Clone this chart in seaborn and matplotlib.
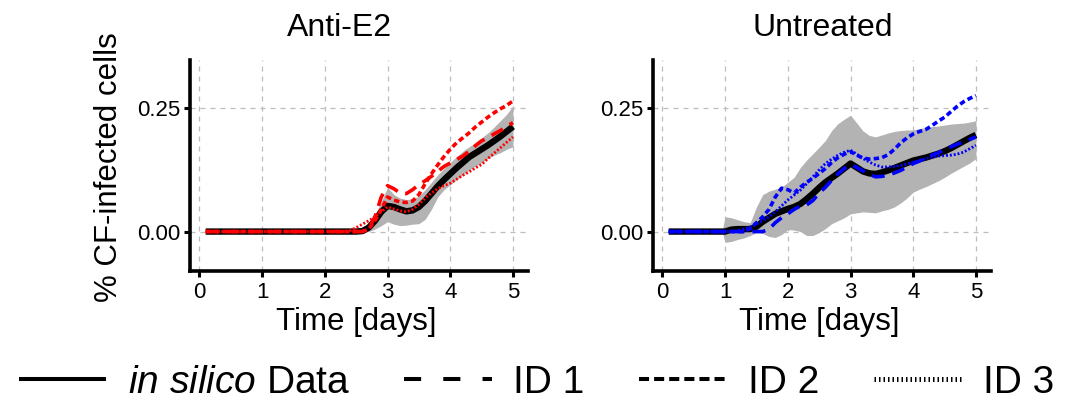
import matplotlib
matplotlib.use("Agg")
import matplotlib.pyplot as plt
from matplotlib.lines import Line2D
import pandas as pd
import seaborn as sns

# ---- data: fraction of CF-infected cells over time ----
days_e2 = [0.1, 2.3, 2.4, 2.5, 2.6, 2.7, 2.8, 2.9, 3.0, 3.1, 3.2, 3.3, 3.4, 3.5,
           3.6, 3.7, 3.8, 3.9, 4.0, 4.1, 4.2, 4.3, 4.4, 4.5, 4.6, 4.7, 4.8, 4.9, 5.0]
silico_e2 = [0, 0, 0, 0, 0.001, 0.008, 0.022, 0.04, 0.052, 0.05, 0.045, 0.041, 0.043, 0.05,
             0.062, 0.077, 0.092, 0.105, 0.117, 0.129, 0.14, 0.151, 0.159, 0.167, 0.175,
             0.184, 0.193, 0.203, 0.213]
upper_e2 = [0, 0, 0, 0, 0.005, 0.018, 0.035, 0.06, 0.09, 0.075, 0.068, 0.065, 0.066, 0.072,
            0.085, 0.1, 0.115, 0.128, 0.14, 0.152, 0.163, 0.172, 0.18, 0.19, 0.2, 0.212,
            0.225, 0.238, 0.255]
lower_e2 = [0, 0, 0, 0, -0.002, 0.0, 0.005, 0.012, 0.02, 0.015, 0.012, 0.013, 0.015, 0.016,
            0.025, 0.045, 0.07, 0.085, 0.095, 0.105, 0.115, 0.125, 0.133, 0.14, 0.148,
            0.155, 0.16, 0.167, 0.172]
id1_e2 = [0, 0, 0, 0, 0, 0.006, 0.03, 0.07, 0.093, 0.087, 0.078, 0.077, 0.085, 0.095,
          0.103, 0.112, 0.122, 0.132, 0.139, 0.146, 0.153, 0.163, 0.174, 0.184, 0.19,
          0.198, 0.205, 0.213, 0.221]
id2_e2 = [0, 0, 0, 0, 0, 0.005, 0.022, 0.045, 0.07, 0.064, 0.06, 0.059, 0.062, 0.075,
          0.097, 0.117, 0.135, 0.152, 0.167, 0.18, 0.19, 0.2, 0.212, 0.222, 0.232,
          0.241, 0.249, 0.256, 0.265]
id3_e2 = [0, 0, 0.002, 0.008, 0.015, 0.022, 0.03, 0.04, 0.05, 0.046, 0.042, 0.04, 0.045,
          0.055, 0.068, 0.078, 0.087, 0.093, 0.098, 0.106, 0.114, 0.121, 0.129, 0.136,
          0.148, 0.159, 0.17, 0.181, 0.192]

days_untr = [0.1, 0.95, 1.0, 1.1, 1.2, 1.3, 1.4, 1.5, 1.6, 1.7, 1.8, 1.9, 2.0, 2.1, 2.2,
             2.3, 2.4, 2.5, 2.6, 2.7, 2.8, 2.9, 3.0, 3.1, 3.2, 3.3, 3.4, 3.5, 3.6, 3.7,
             3.8, 3.9, 4.0, 4.1, 4.2, 4.3, 4.4, 4.5, 4.6, 4.7, 4.8, 4.9, 5.0]
silico_untr = [0, 0, 0.0, 0.004, 0.005, 0.005, 0.005, 0.01, 0.02, 0.028, 0.036, 0.041,
               0.046, 0.05, 0.056, 0.066, 0.077, 0.089, 0.1, 0.109, 0.118, 0.128, 0.138,
               0.13, 0.122, 0.118, 0.117, 0.12, 0.124, 0.129, 0.134, 0.139, 0.144, 0.147,
               0.15, 0.154, 0.158, 0.163, 0.169, 0.176, 0.183, 0.19, 0.196]
upper_untr = [0, 0, 0.03, 0.028, 0.024, 0.02, 0.018, 0.05, 0.075, 0.082, 0.086, 0.09,
              0.1, 0.11, 0.13, 0.145, 0.158, 0.171, 0.185, 0.205, 0.219, 0.228, 0.236,
              0.22, 0.204, 0.195, 0.192, 0.196, 0.2, 0.203, 0.205, 0.206, 0.206, 0.209,
              0.211, 0.213, 0.214, 0.216, 0.218, 0.219, 0.22, 0.222, 0.225]
lower_untr = [0, 0, -0.022, -0.02, -0.016, -0.013, -0.008, -0.002, -0.004, -0.01, -0.012,
              -0.006, 0.004, 0.003, 0.0, -0.008, -0.008, -0.002, 0.006, 0.016, 0.022,
              0.028, 0.036, 0.038, 0.04, 0.039, 0.038, 0.042, 0.045, 0.05, 0.058, 0.068,
              0.08, 0.086, 0.091, 0.097, 0.103, 0.11, 0.118, 0.125, 0.132, 0.139, 0.148]
id1_untr = [0, 0, 0, 0, 0, 0, 0, 0, 0.0, 0.005, 0.018, 0.028, 0.036, 0.045, 0.052, 0.054,
            0.063, 0.078, 0.09, 0.104, 0.117, 0.128, 0.136, 0.13, 0.123, 0.116, 0.111,
            0.112, 0.114, 0.119, 0.124, 0.131, 0.138, 0.143, 0.149, 0.155, 0.16, 0.166,
            0.172, 0.177, 0.182, 0.187, 0.192]
id2_untr = [0, 0, 0, 0, 0, 0, 0.006, 0.018, 0.03, 0.045, 0.07, 0.088, 0.085, 0.078, 0.09,
            0.1, 0.108, 0.118, 0.128, 0.14, 0.15, 0.157, 0.162, 0.155, 0.149, 0.147,
            0.148, 0.15, 0.156, 0.167, 0.18, 0.19, 0.198, 0.203, 0.207, 0.215, 0.224,
            0.232, 0.243, 0.254, 0.263, 0.27, 0.276]
id3_untr = [0, 0, 0, 0, 0.002, 0.005, 0.009, 0.015, 0.022, 0.03, 0.04, 0.052, 0.064,
            0.074, 0.084, 0.097, 0.111, 0.125, 0.138, 0.147, 0.155, 0.161, 0.165, 0.157,
            0.148, 0.141, 0.135, 0.131, 0.131, 0.132, 0.134, 0.137, 0.141, 0.144, 0.148,
            0.151, 0.153, 0.154, 0.155, 0.157, 0.161, 0.168, 0.175]

panel_titles = ["Anti-E2", "Untreated"]
x_ticks = [0, 1, 2, 3, 4, 5]
y_ticks = [0.0, 0.25]
y_tick_labels = ["0.00", "0.25"]
legend_labels = [r"$\mathit{in\ silico}$ Data", "ID 1", "ID 2", "ID 3"]

# ---- style ----
sns.set_style("white")
plt.rcParams["font.family"] = ["Liberation Sans", "DejaVu Sans"]
plt.rcParams["mathtext.fontset"] = "custom"
plt.rcParams["mathtext.it"] = "Liberation Sans:italic"
plt.rcParams["mathtext.rm"] = "Liberation Sans"
plt.rcParams["text.color"] = "black"
plt.rcParams["axes.labelcolor"] = "black"
plt.rcParams["xtick.color"] = "black"
plt.rcParams["ytick.color"] = "black"

W, H = 1066, 405
fig = plt.figure(figsize=(W / 100, H / 100), dpi=100)

panels = [
    dict(days=days_e2, silico=silico_e2, lo=lower_e2, hi=upper_e2,
         ids=[id1_e2, id2_e2, id3_e2], color="#FF0000", left=190, title_x=339.5),
    dict(days=days_untr, silico=silico_untr, lo=lower_untr, hi=upper_untr,
         ids=[id1_untr, id2_untr, id3_untr], color="#0000FF", left=653, title_x=822.5),
]

id_styles = [
    dict(lw=2.6, linestyle=(0, (3.6, 2.2))),   # ID 1: long dash
    dict(lw=2.6, linestyle=(0, (1.5, 0.9))),   # ID 2: short dash
    dict(lw=2.0, linestyle=(0, (0.7, 0.7))),   # ID 3: dotted
]

for p, title in zip(panels, panel_titles):
    ax = fig.add_axes([p["left"] / W, 1 - 271 / H, 338 / W, 211 / H])
    ax.fill_between(p["days"], p["lo"], p["hi"], color="#B3B3B3", lw=0, zorder=1)
    sns.lineplot(x=p["days"], y=p["silico"], ax=ax, color="black", lw=4.6,
                 errorbar=None, zorder=2, solid_capstyle="butt")
    for vals, st in zip(p["ids"], id_styles):
        sns.lineplot(x=p["days"], y=vals, ax=ax, color=p["color"], errorbar=None,
                     zorder=3, dash_capstyle="butt", **st)

    ax.set_xlim(-0.15, 5.24)
    ax.set_ylim(-0.08, 0.348)
    ax.set_xticks(x_ticks)
    ax.set_yticks(y_ticks)
    ax.set_yticklabels(y_tick_labels)
    ax.set_xlabel("")
    ax.set_ylabel("")
    ax.grid(True, color="#BDBDBD", lw=0.9, linestyle=(0, (4, 4)))
    ax.set_axisbelow(True)
    for side in ("top", "right"):
        ax.spines[side].set_visible(False)
    for side in ("left", "bottom"):
        ax.spines[side].set_linewidth(2.6)
        ax.spines[side].set_color("black")
    ax.tick_params(axis="both", bottom=True, left=True, length=4, width=2.2,
                   color="black", labelsize=16, labelcolor="black")
    ax.tick_params(axis="x", pad=4)
    ax.tick_params(axis="y", pad=3)

    fig.text(p["title_x"] / W, 1 - 36 / H, title, ha="center", va="baseline",
             fontsize=23, color="black")
    fig.text((p["left"] + 166) / W, 1 - 330 / H, "Time [days]", ha="center",
             va="baseline", fontsize=22.5, color="black")

fig.text(117 / W, 1 - 167 / H, "% CF-infected cells", rotation=90,
         rotation_mode="anchor", ha="center", va="baseline", fontsize=22.5,
         color="black")

handles = [
    Line2D([], [], color="black", lw=2.9, solid_capstyle="butt"),
    Line2D([], [], color="black", lw=2.9, linestyle=(0, (4.25, 5.5)), dash_capstyle="butt"),
    Line2D([], [], color="black", lw=2.9, linestyle=(0, (2.5, 1.25)), dash_capstyle="butt"),
    Line2D([], [], color="black", lw=3.6, linestyle=(0, (0.3, 0.6)), dash_capstyle="butt"),
]
leg = fig.legend(handles, legend_labels, ncol=4, loc="center",
                 bbox_to_anchor=(0.503, 0.055), frameon=False, fontsize=28,
                 handlelength=2.25, handletextpad=0.55, columnspacing=1.4,
                 borderpad=0, borderaxespad=0, labelcolor="black")

fig.savefig("out.png", dpi=100)
